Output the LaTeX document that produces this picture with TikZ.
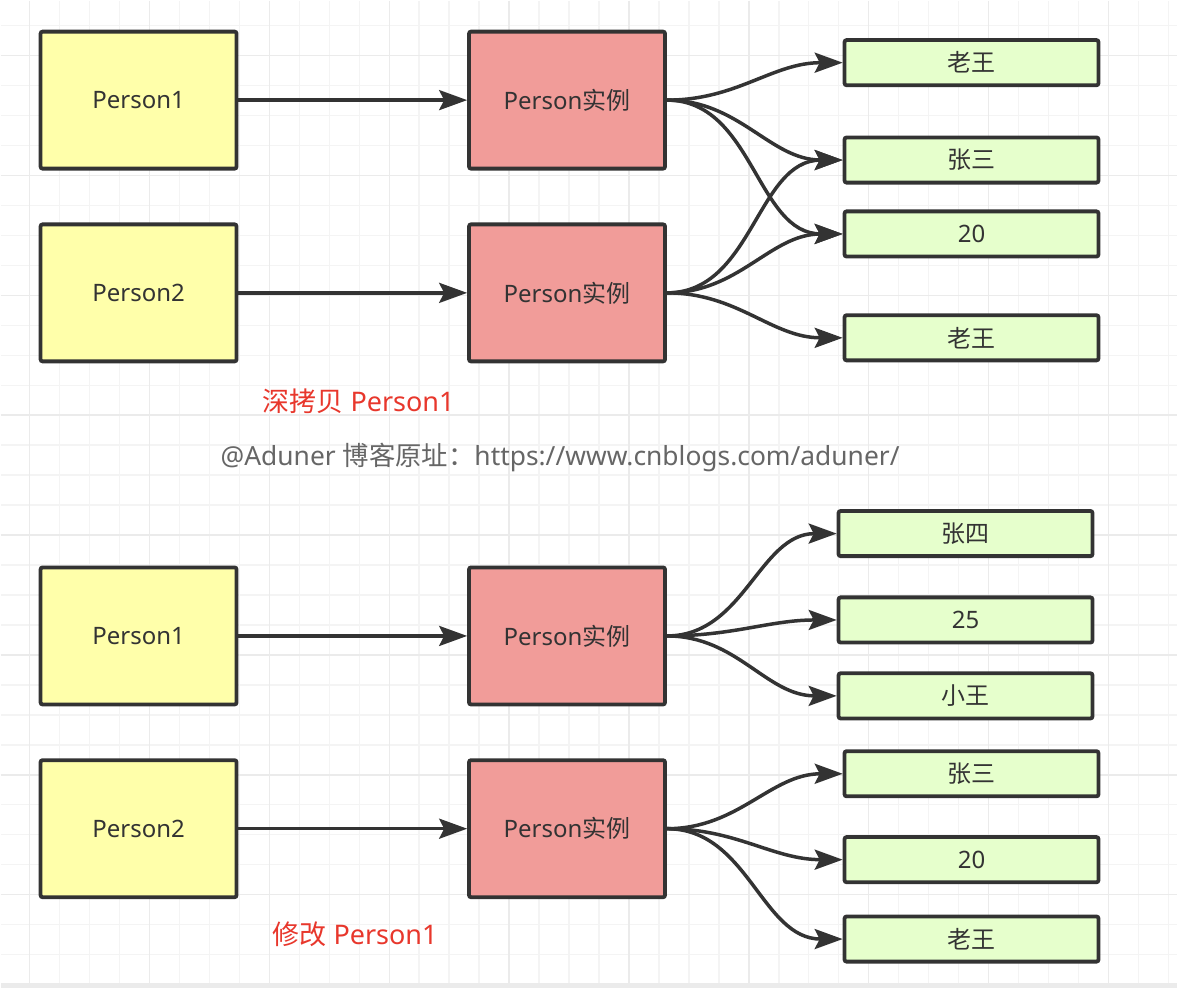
\documentclass[tikz,border=0pt]{standalone}
\usepackage{fontspec}
\setmainfont{Noto Sans}
\newfontfamily\cjkfont{Noto Sans CJK SC}
\newcommand{\zh}[1]{{\cjkfont #1}}
\usetikzlibrary{arrows.meta,positioning}
\definecolor{linegray}{HTML}{333333}
\definecolor{noteyellow}{HTML}{FFFFAA}
\definecolor{instred}{HTML}{F19C99}
\definecolor{valgreen}{HTML}{E6FFCC}
\definecolor{labelred}{HTML}{E8372C}
\definecolor{urlgray}{HTML}{666666}
\definecolor{gridminor}{HTML}{F4F4F4}
\definecolor{gridmajor}{HTML}{EBEBEB}

\begin{document}
\begin{tikzpicture}[
  x=1pt, y=-1pt,
  node distance=52pt and 229pt,
  box/.style={draw=linegray, line width=3.8pt, rounded corners=2pt, align=center,
              text=linegray, font=\fontsize{24}{28}\selectfont},
  person/.style={box, minimum width=196.2pt, minimum height=137.2pt, fill=noteyellow},
  inst/.style={box, minimum width=196.2pt, minimum height=137.2pt, fill=instred},
  val/.style={box, minimum width=254.2pt, minimum height=45.2pt, fill=valgreen},
  note/.style={anchor=west, inner sep=0pt, font=\fontsize{27}{32}\selectfont},
  arrow/.style={-{Stealth[length=28pt,width=20pt,inset=5pt]}, line width=3.5pt, draw=linegray},
  link/.style={arrow, out=0, in=180}
]
% background grid
\fill[white] (0,0) rectangle (1178,988);
\foreach \i in {0,...,38} \draw[gridminor, line width=1.5pt] ({29+30*\i},0) -- ++(0,988);
\foreach \j in {0,...,32} \draw[gridminor, line width=1.5pt] (0,{25+30*\j}) -- ++(1178,0);
\foreach \i in {0,...,9} \draw[gridmajor, line width=1.5pt] ({29+120*\i},0) -- ++(0,988);
\foreach \j in {0,...,7} \draw[gridmajor, line width=1.5pt] (0,{55+120*\j}) -- ++(1178,0);
\fill[gridmajor] (0,983) rectangle (1178,988);

% deep copy
\node[person] (p1) at (138,99.5) {Person1};
\node[person, below=of p1] (p2) {Person2};
\node[inst, right=of p1] (i1) {Person\zh{实例}};
\node[inst, right=of p2] (i2) {Person\zh{实例}};
\node[val] (a1) at (972,62) {\zh{老王}};
\node[val] (a2) at (972,159.5) {\zh{张三}};
\node[val] (a3) at (972,233.5) {20};
\node[val] (a4) at (972,337.5) {\zh{老王}};
\node[note, text=labelred] (deep) at (262,401) {\zh{深拷贝} Person1};
\node[note, text=urlgray, font=\fontsize{26.4}{31}\selectfont] (url) at (220,457) {@Aduner \zh{博客原址：}https://www.cnblogs.com/aduner/};

\draw[arrow] (p1) -- (i1);
\draw[arrow] (p2) -- (i2);
\draw[link] (i1.east) to (a1.west);
\draw[link] (i1.east) to (a2.west);
\draw[link] (i1.east) to (a3.west);
\draw[link] (i2.east) to (a2.west);
\draw[link] (i2.east) to (a3.west);
\draw[link] (i2.east) to (a4.west);

% modify
\node[person] (q1) at (138,636) {Person1};
\node[person, below=of q1] (q2) {Person2};
\node[inst, right=of q1] (j1) {Person\zh{实例}};
\node[inst, right=of q2] (j2) {Person\zh{实例}};
\node[val] (b1) at (966,533.5) {\zh{张四}};
\node[val] (b2) at (966,620) {25};
\node[val] (b3) at (966,696) {\zh{小王}};
\node[val] (b4) at (972,774) {\zh{张三}};
\node[val] (b5) at (972,860) {20};
\node[val] (b6) at (972,939.5) {\zh{老王}};
\node[note, text=labelred] (modify) at (272,935) {\zh{修改} Person1};

\draw[arrow] (q1) -- (j1);
\draw[arrow] (q2) -- (j2);
\draw[link] (j1.east) to (b1.west);
\draw[link] (j1.east) to (b2.west);
\draw[link] (j1.east) to (b3.west);
\draw[link] (j2.east) to (b4.west);
\draw[link] (j2.east) to (b5.west);
\draw[link] (j2.east) to (b6.west);
\end{tikzpicture}
\end{document}
